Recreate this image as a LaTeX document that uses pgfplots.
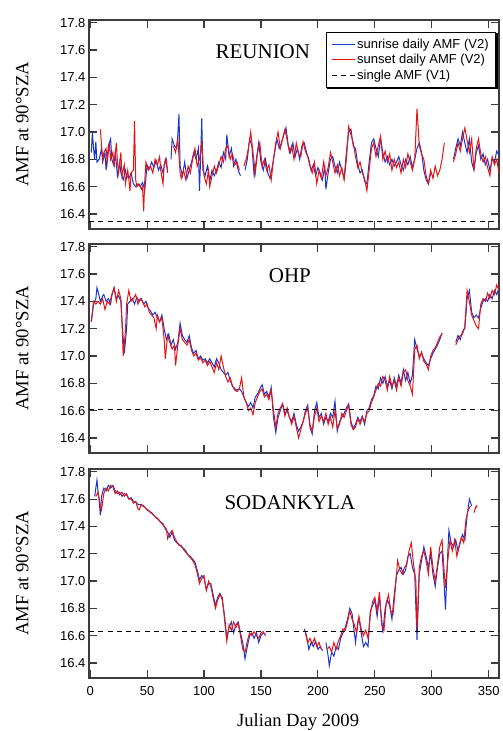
\documentclass[border=0pt]{standalone}
\usepackage{fontspec}
\setmainfont{Liberation Serif}
\setsansfont{Liberation Sans}
\usepackage{pgfplots}
\usepackage{pgfplotstable}
\pgfplotsset{compat=1.18}

\definecolor{riseblue}{RGB}{25,55,205}
\definecolor{setred}{RGB}{232,20,20}
\definecolor{axisgray}{RGB}{60,60,60}

% ---- REUNION ----
\pgfplotstableread[row sep=\\]{
day amf\\
1 16.85\\ 2 17.00\\ 3 16.88\\ 4 16.80\\ 5 16.93\\ 6 16.78\\ 8 16.80\\ 10 16.88\\ 11 16.78\\ 13 16.85\\
14 16.72\\ 16 16.90\\ 18 16.95\\ 19 16.80\\ 21 16.75\\ 22 16.85\\ 24 16.68\\ 26 16.78\\ 27 16.70\\ 29 16.65\\
31 16.72\\ 32 16.68\\ 34 16.66\\ 36 16.70\\ 38 16.62\\ 40 16.60\\ 42 16.62\\ 44 16.60\\ 46 16.63\\ 48 16.58\\
50 16.76\\ 52 16.73\\ 54 16.78\\ 56 16.74\\ 58 16.79\\ 60 16.72\\ 62 16.76\\ 64 16.70\\ 66 16.80\\ 68 16.72\\
70 nan\\ 71 16.80\\ 72 16.95\\ 74 16.90\\ 76 16.88\\ 77 16.98\\ 78 17.13\\ 79 16.75\\ 81 16.68\\ 83 16.78\\
85 16.66\\ 87 16.72\\ 89 16.78\\ 91 16.85\\ 93 16.80\\ 95 16.88\\ 96 16.57\\ 97 16.80\\ 98 17.10\\ 99 16.72\\
101 16.68\\ 103 16.75\\ 105 16.64\\ 107 16.72\\ 109 16.68\\ 111 16.72\\ 113 16.78\\ 115 16.74\\ 117 16.85\\ 119 16.80\\
120 16.98\\ 122 16.82\\ 124 16.88\\ 126 16.75\\ 128 16.80\\ 130 16.72\\ 132 16.68\\ 134 nan\\ 136 16.72\\ 138 16.80\\
140 16.95\\ 142 16.90\\ 144 16.68\\ 146 16.80\\ 148 16.92\\ 150 16.78\\ 152 16.72\\ 154 16.80\\ 156 16.70\\ 158 16.66\\
160 16.75\\ 162 16.85\\ 164 16.95\\ 166 16.88\\ 168 16.92\\ 170 16.98\\ 172 17.03\\ 174 16.90\\ 176 16.85\\ 178 16.92\\
180 16.82\\ 182 16.88\\ 184 16.80\\ 186 16.90\\ 188 16.92\\ 190 16.85\\ 192 16.80\\ 194 16.72\\ 196 16.76\\ 198 16.68\\
200 16.74\\ 202 16.70\\ 204 16.65\\ 206 16.75\\ 207 16.58\\ 209 16.70\\ 211 16.80\\ 213 16.82\\ 215 16.75\\ 217 16.70\\
219 16.78\\ 221 16.72\\ 223 16.66\\ 225 16.85\\ 227 17.00\\ 229 17.02\\ 231 16.90\\ 233 16.88\\ 235 16.76\\ 237 16.70\\
239 16.72\\ 241 16.64\\ 243 16.62\\ 245 16.78\\ 247 16.92\\ 249 16.95\\ 251 16.88\\ 253 16.82\\ 255 16.95\\ 257 16.85\\
259 16.78\\ 261 16.82\\ 263 16.76\\ 265 16.80\\ 267 16.75\\ 269 16.78\\ 271 16.82\\ 273 16.76\\ 275 16.72\\ 277 16.80\\
279 16.76\\ 281 16.82\\ 283 16.74\\ 285 16.80\\ 287 16.88\\ 289 16.92\\ 291 16.85\\ 293 16.72\\ 295 16.65\\ 297 16.62\\
299 16.70\\ 300 nan\\ 319 16.80\\ 321 16.88\\ 323 16.95\\ 325 16.90\\ 327 17.00\\ 329 16.92\\ 331 16.85\\ 333 16.95\\
335 16.78\\ 337 16.72\\ 339 16.85\\ 341 16.90\\ 343 16.80\\ 345 16.84\\ 347 16.76\\ 349 16.80\\ 351 16.72\\ 353 16.80\\
355 16.78\\ 357 16.86\\ 359 16.83\\
}\reuRise

\pgfplotstableread[row sep=\\]{
day amf\\
9 17.02\\ 10 16.90\\ 11 16.80\\ 12 16.85\\ 14 16.88\\ 15 16.78\\ 17 16.92\\ 18 16.80\\ 20 16.85\\ 21 16.75\\
23 16.92\\ 24 16.78\\ 25 16.70\\ 27 16.85\\ 28 16.68\\ 30 16.76\\ 31 16.62\\ 33 16.72\\ 34 16.65\\ 35 16.57\\
36 16.70\\ 38 16.72\\ 39 17.08\\ 40 16.65\\ 41 16.60\\ 43 16.62\\ 45 16.58\\ 46 16.60\\ 47 16.42\\ 48 16.65\\
49 16.78\\ 51 16.72\\ 53 16.75\\ 55 16.70\\ 57 16.80\\ 59 16.76\\ 61 16.82\\ 62 16.72\\ 64 16.62\\ 65 16.76\\
67 16.80\\ 68 16.70\\ 69 nan\\ 73 16.90\\ 75 16.85\\ 77 16.95\\ 79 16.70\\ 80 16.66\\ 82 16.72\\ 84 16.65\\
86 16.75\\ 88 16.70\\ 90 16.80\\ 92 16.88\\ 94 16.75\\ 96 16.80\\ 98 16.92\\ 100 16.68\\ 102 16.62\\ 104 16.72\\
105 16.60\\ 107 16.68\\ 109 16.75\\ 111 16.70\\ 113 16.76\\ 115 16.82\\ 117 16.78\\ 119 16.88\\ 121 16.90\\ 123 16.80\\
125 16.84\\ 127 16.76\\ 129 16.78\\ 131 16.72\\ 133 nan\\ 135 16.75\\ 137 16.80\\ 139 16.88\\ 141 17.00\\ 143 16.85\\
145 16.70\\ 147 16.85\\ 149 16.92\\ 151 16.75\\ 153 16.80\\ 155 16.72\\ 157 16.76\\ 159 16.65\\ 161 16.80\\ 163 16.92\\
165 17.00\\ 167 16.88\\ 169 16.95\\ 171 17.02\\ 173 16.94\\ 175 16.85\\ 177 16.90\\ 179 16.80\\ 181 16.92\\ 183 16.84\\
185 16.82\\ 187 16.93\\ 189 16.86\\ 191 16.82\\ 193 16.75\\ 195 16.70\\ 197 16.78\\ 199 16.62\\ 201 16.72\\ 203 16.66\\
205 16.78\\ 207 16.68\\ 209 16.74\\ 211 16.85\\ 213 16.78\\ 215 16.70\\ 217 16.76\\ 219 16.68\\ 221 16.74\\ 223 16.65\\
225 16.80\\ 227 17.04\\ 229 16.98\\ 231 16.92\\ 233 16.82\\ 235 16.74\\ 237 16.78\\ 239 16.70\\ 241 16.66\\ 243 16.57\\
245 16.72\\ 247 16.88\\ 249 16.92\\ 251 16.82\\ 253 16.90\\ 255 16.97\\ 257 16.80\\ 259 16.86\\ 261 16.78\\ 263 16.84\\
265 16.72\\ 267 16.80\\ 269 16.74\\ 271 16.78\\ 273 16.70\\ 275 16.80\\ 277 16.74\\ 279 16.84\\ 281 16.78\\ 283 16.72\\
285 16.80\\ 287 17.17\\ 289 16.90\\ 291 16.84\\ 293 16.80\\ 295 16.68\\ 297 16.62\\ 299 16.72\\ 301 16.66\\ 303 16.75\\
305 16.68\\ 307 16.72\\ 309 16.80\\ 311 16.92\\ 313 nan\\ 319 16.78\\ 321 16.84\\ 323 16.92\\ 325 16.86\\ 327 16.95\\
329 17.03\\ 331 16.94\\ 333 16.85\\ 335 16.95\\ 337 16.72\\ 339 16.88\\ 341 16.95\\ 343 16.84\\ 345 16.78\\ 347 16.82\\
349 16.74\\ 351 16.68\\ 353 16.82\\ 355 16.76\\ 357 16.80\\ 359 16.70\\
}\reuSet

% ---- OHP ----
\pgfplotstableread[row sep=\\]{
day amf\\
1 17.25\\ 3 17.38\\ 5 17.42\\ 6 17.50\\ 7 17.47\\ 9 17.40\\ 11 17.44\\ 12 17.45\\ 14 17.40\\ 16 17.42\\
18 17.38\\ 19 17.44\\ 21 17.50\\ 23 17.42\\ 25 17.44\\ 27 17.40\\ 28 17.25\\ 30 17.02\\ 32 17.20\\ 33 17.38\\
35 17.40\\ 37 17.42\\ 39 17.38\\ 41 17.43\\ 43 17.40\\ 45 17.42\\ 47 17.38\\ 49 17.40\\ 51 17.35\\ 53 17.33\\
55 17.30\\ 57 17.32\\ 59 17.28\\ 61 17.25\\ 63 17.30\\ 65 17.20\\ 67 17.12\\ 69 17.16\\ 71 17.08\\ 73 17.12\\
75 17.05\\ 77 17.10\\ 79 17.24\\ 81 17.15\\ 83 17.12\\ 85 17.10\\ 87 17.15\\ 89 17.06\\ 91 17.02\\ 93 17.04\\
95 16.98\\ 97 17.00\\ 99 16.97\\ 101 16.98\\ 103 16.95\\ 105 16.98\\ 107 16.95\\ 109 16.92\\ 111 16.98\\ 113 16.95\\
115 16.90\\ 117 16.88\\ 119 16.86\\ 121 16.88\\ 123 16.82\\ 125 16.78\\ 127 16.76\\ 129 16.75\\ 131 16.76\\ 133 16.74\\
135 16.70\\ 137 16.66\\ 139 16.63\\ 141 16.66\\ 143 16.62\\ 145 16.70\\ 147 16.72\\ 149 16.76\\ 151 16.79\\ 153 16.72\\
155 16.74\\ 157 16.70\\ 159 16.77\\ 161 16.55\\ 163 16.44\\ 165 16.55\\ 167 16.60\\ 169 16.65\\ 171 16.58\\ 173 16.60\\
175 16.55\\ 177 16.52\\ 179 16.58\\ 181 16.50\\ 183 16.45\\ 185 16.48\\ 187 16.52\\ 189 16.60\\ 191 16.64\\ 193 16.48\\
195 16.43\\ 197 16.60\\ 199 16.66\\ 201 16.55\\ 203 16.58\\ 205 16.50\\ 207 16.55\\ 209 16.52\\ 211 16.58\\ 213 16.55\\
215 16.67\\ 217 16.45\\ 219 16.52\\ 221 16.55\\ 223 16.58\\ 225 16.62\\ 227 16.65\\ 229 16.52\\ 231 16.47\\ 233 16.50\\
235 16.55\\ 237 16.52\\ 239 16.56\\ 241 16.50\\ 243 16.60\\ 245 16.62\\ 247 16.68\\ 249 16.71\\ 251 16.78\\ 253 16.76\\
255 16.84\\ 257 16.80\\ 259 16.85\\ 261 16.78\\ 263 16.82\\ 265 16.76\\ 267 16.84\\ 269 16.78\\ 271 16.86\\ 273 16.80\\
275 16.90\\ 277 16.82\\ 279 16.88\\ 281 16.80\\ 283 16.86\\ 285 17.12\\ 287 17.05\\ 289 17.00\\ 291 17.02\\ 293 16.98\\
295 16.95\\ 297 16.93\\ 299 16.98\\ 301 17.02\\ 303 17.05\\ 305 17.08\\ 307 17.12\\ 309 17.17\\ 310 nan\\ 321 17.10\\
323 17.15\\ 325 17.12\\ 327 17.18\\ 329 17.20\\ 331 17.42\\ 333 17.48\\ 335 17.32\\ 337 17.28\\ 339 17.30\\ 341 17.28\\
343 17.35\\ 345 17.40\\ 347 17.42\\ 349 17.40\\ 351 17.45\\ 353 17.42\\ 355 17.48\\ 357 17.45\\ 359 17.50\\
}\ohpRise

\pgfplotstableread[row sep=\\]{
day amf\\
1 17.25\\ 3 17.40\\ 5 17.38\\ 7 17.40\\ 9 17.38\\ 11 17.42\\ 13 17.34\\ 15 17.40\\ 17 17.38\\ 19 17.45\\
21 17.50\\ 23 17.40\\ 25 17.48\\ 27 17.42\\ 28 17.25\\ 29 17.00\\ 31 17.18\\ 32 17.38\\ 34 17.48\\ 36 17.40\\
38 17.42\\ 40 17.45\\ 42 17.38\\ 44 17.42\\ 46 17.40\\ 48 17.36\\ 50 17.38\\ 52 17.32\\ 54 17.30\\ 56 17.28\\
58 17.20\\ 59 17.30\\ 61 17.25\\ 63 17.28\\ 65 17.12\\ 66 16.98\\ 68 17.15\\ 70 17.10\\ 72 17.05\\ 74 17.08\\
75 16.93\\ 77 17.08\\ 79 17.20\\ 81 17.12\\ 83 17.10\\ 85 17.08\\ 87 17.12\\ 89 17.04\\ 91 17.00\\ 93 17.02\\
95 16.97\\ 97 16.99\\ 99 16.95\\ 101 16.97\\ 103 16.93\\ 105 16.96\\ 107 16.92\\ 109 16.88\\ 111 16.95\\ 113 16.90\\
115 17.00\\ 117 16.92\\ 119 16.85\\ 121 16.81\\ 123 16.84\\ 125 16.78\\ 127 16.75\\ 129 16.74\\ 131 16.76\\ 133 16.84\\
135 16.70\\ 137 16.66\\ 139 16.60\\ 141 16.62\\ 143 16.57\\ 145 16.66\\ 147 16.70\\ 149 16.74\\ 151 16.76\\ 153 16.70\\
155 16.72\\ 157 16.68\\ 159 16.75\\ 161 16.60\\ 163 16.48\\ 165 16.58\\ 167 16.62\\ 169 16.65\\ 171 16.56\\ 173 16.62\\
175 16.55\\ 177 16.50\\ 179 16.56\\ 181 16.48\\ 183 16.40\\ 185 16.46\\ 187 16.52\\ 189 16.58\\ 191 16.62\\ 193 16.50\\
195 16.45\\ 197 16.56\\ 199 16.62\\ 201 16.52\\ 203 16.56\\ 205 16.52\\ 207 16.58\\ 209 16.50\\ 211 16.55\\ 213 16.48\\
215 16.60\\ 217 16.47\\ 219 16.50\\ 221 16.58\\ 223 16.55\\ 225 16.60\\ 227 16.64\\ 229 16.50\\ 231 16.46\\ 233 16.48\\
235 16.54\\ 237 16.50\\ 239 16.55\\ 241 16.52\\ 243 16.58\\ 245 16.60\\ 247 16.66\\ 249 16.70\\ 251 16.75\\ 253 16.80\\
255 16.78\\ 257 16.85\\ 259 16.82\\ 261 16.75\\ 263 16.85\\ 265 16.78\\ 267 16.82\\ 269 16.75\\ 271 16.84\\ 273 16.78\\
275 16.88\\ 277 16.90\\ 279 16.82\\ 281 16.78\\ 283 16.72\\ 285 17.05\\ 287 17.08\\ 289 16.98\\ 291 17.03\\ 293 16.96\\
295 16.94\\ 297 16.90\\ 299 17.00\\ 301 17.04\\ 303 17.06\\ 305 17.10\\ 307 17.14\\ 309 17.16\\ 310 nan\\ 321 17.08\\
323 17.12\\ 325 17.15\\ 327 17.16\\ 329 17.22\\ 331 17.48\\ 333 17.40\\ 335 17.30\\ 337 17.26\\ 339 17.22\\ 341 17.20\\
343 17.38\\ 345 17.42\\ 347 17.40\\ 349 17.46\\ 351 17.42\\ 353 17.48\\ 355 17.45\\ 357 17.52\\ 359 17.48\\
}\ohpSet

% ---- SODANKYLA ----
\pgfplotstableread[row sep=\\]{
day amf\\
4 17.62\\ 5 17.68\\ 6 17.74\\ 7 17.65\\ 8 17.58\\ 9 17.48\\ 10 17.62\\ 12 17.68\\ 14 17.66\\ 16 17.70\\
18 17.68\\ 20 17.70\\ 22 17.66\\ 24 17.64\\ 26 17.65\\ 28 17.62\\ 30 17.64\\ 32 17.63\\ 34 17.60\\ 36 17.61\\
38 17.58\\ 40 17.58\\ 42 17.56\\ 44 17.56\\ 46 17.55\\ 48 17.54\\ 50 17.52\\ 52 17.51\\ 54 17.50\\ 56 17.48\\
58 17.46\\ 60 17.45\\ 62 17.43\\ 64 17.42\\ 66 17.38\\ 68 17.36\\ 70 17.32\\ 72 17.36\\ 74 17.30\\ 76 17.28\\
78 17.27\\ 80 17.25\\ 82 17.24\\ 84 17.22\\ 86 17.19\\ 88 17.18\\ 90 17.16\\ 92 17.14\\ 94 17.08\\ 96 17.01\\
98 17.04\\ 100 17.02\\ 102 16.94\\ 104 16.98\\ 106 16.98\\ 108 16.90\\ 110 16.82\\ 112 16.88\\ 114 16.91\\ 116 16.86\\
118 16.75\\ 120 16.58\\ 122 16.66\\ 124 16.70\\ 126 16.62\\ 128 16.68\\ 130 16.70\\ 132 16.62\\ 134 16.55\\ 136 16.43\\
138 16.52\\ 140 16.60\\ 142 16.62\\ 144 16.58\\ 146 16.62\\ 148 16.55\\ 150 16.60\\ 152 16.62\\ 154 16.61\\ 155 nan\\
188 16.65\\ 190 16.60\\ 192 16.50\\ 194 16.55\\ 196 16.52\\ 198 16.56\\ 200 16.50\\ 202 16.52\\ 204 16.49\\ 205 nan\\
207 16.55\\ 209 16.45\\ 210 16.38\\ 212 16.48\\ 214 16.45\\ 216 16.52\\ 218 16.50\\ 220 16.58\\ 222 16.62\\ 224 16.66\\
226 16.72\\ 228 16.80\\ 230 16.76\\ 232 16.62\\ 233 16.55\\ 235 16.70\\ 236 16.73\\ 238 16.62\\ 240 16.52\\ 242 16.55\\
244 16.52\\ 246 16.78\\ 248 16.82\\ 250 16.86\\ 252 16.74\\ 254 16.88\\ 256 16.72\\ 257 16.62\\ 259 16.80\\ 261 16.86\\
263 16.82\\ 265 16.72\\ 267 16.90\\ 269 17.04\\ 271 17.08\\ 273 17.10\\ 275 17.05\\ 277 17.08\\ 279 17.18\\ 281 17.20\\
283 17.10\\ 285 17.05\\ 287 16.57\\ 289 17.05\\ 291 17.15\\ 293 17.25\\ 295 17.18\\ 297 17.10\\ 299 17.20\\ 301 17.05\\
303 16.96\\ 305 17.10\\ 307 17.20\\ 309 17.22\\ 311 16.95\\ 312 16.79\\ 314 17.20\\ 315 17.37\\ 317 17.28\\ 319 17.25\\
321 17.30\\ 323 17.22\\ 325 17.28\\ 327 17.34\\ 329 17.30\\ 331 17.48\\ 333 17.60\\ 335 17.55\\
}\sodRise

\pgfplotstableread[row sep=\\]{
day amf\\
5 17.62\\ 7 17.65\\ 9 17.55\\ 10 17.52\\ 12 17.64\\ 14 17.68\\ 16 17.66\\ 18 17.70\\ 20 17.69\\ 22 17.64\\
24 17.66\\ 26 17.63\\ 28 17.65\\ 30 17.62\\ 32 17.64\\ 34 17.60\\ 36 17.60\\ 38 17.57\\ 40 17.58\\ 42 17.53\\
43 17.52\\ 45 17.56\\ 47 17.55\\ 49 17.53\\ 51 17.52\\ 53 17.50\\ 55 17.49\\ 57 17.47\\ 59 17.46\\ 61 17.44\\
63 17.42\\ 65 17.40\\ 67 17.38\\ 68 17.31\\ 70 17.35\\ 72 17.37\\ 74 17.32\\ 76 17.29\\ 78 17.26\\ 80 17.26\\
82 17.23\\ 84 17.21\\ 86 17.19\\ 88 17.17\\ 90 17.15\\ 92 17.12\\ 94 17.06\\ 96 16.98\\ 98 17.02\\ 100 17.04\\
102 16.93\\ 104 17.00\\ 106 16.96\\ 108 16.88\\ 110 16.80\\ 112 16.86\\ 114 16.90\\ 116 16.88\\ 118 16.72\\ 120 16.56\\
122 16.68\\ 124 16.64\\ 126 16.70\\ 128 16.66\\ 130 16.69\\ 132 16.60\\ 134 16.50\\ 136 16.48\\ 138 16.56\\ 140 16.62\\
142 16.60\\ 144 16.63\\ 146 16.60\\ 148 16.58\\ 150 16.62\\ 152 16.63\\ 154 16.60\\ 155 nan\\ 189 16.62\\ 191 16.55\\
193 16.58\\ 195 16.54\\ 197 16.58\\ 199 16.52\\ 201 16.55\\ 203 16.50\\ 204 nan\\ 208 16.50\\ 210 16.52\\ 212 16.48\\
214 16.55\\ 216 16.50\\ 218 16.56\\ 220 16.60\\ 222 16.65\\ 224 16.64\\ 226 16.70\\ 228 16.78\\ 230 16.72\\ 232 16.68\\
234 16.62\\ 236 16.74\\ 238 16.65\\ 240 16.60\\ 242 16.64\\ 244 16.58\\ 246 16.75\\ 248 16.85\\ 250 16.88\\ 252 16.78\\
254 16.92\\ 256 16.68\\ 258 16.64\\ 260 16.84\\ 262 16.90\\ 264 16.78\\ 266 16.76\\ 268 16.95\\ 270 17.15\\ 272 17.08\\
274 17.05\\ 276 17.10\\ 278 17.12\\ 280 17.22\\ 282 17.28\\ 284 17.12\\ 286 17.00\\ 287 16.65\\ 289 17.10\\ 291 17.18\\
293 17.22\\ 295 17.15\\ 297 17.05\\ 299 17.25\\ 301 17.10\\ 303 17.00\\ 305 17.12\\ 307 17.25\\ 309 17.30\\ 311 17.05\\
312 16.95\\ 314 17.15\\ 316 17.30\\ 318 17.22\\ 320 17.30\\ 322 17.18\\ 324 17.26\\ 326 17.32\\ 328 17.28\\ 330 17.45\\
332 17.52\\ 334 17.55\\ 335 nan\\ 337 17.50\\ 339 17.55\\ 340 17.54\\
}\sodSet

\tikzset{panelname/.style={font=\fontsize{21}{21}\selectfont}}

\pgfplotsset{
  amfpanel/.style={
    scale only axis, width=410pt, height=209pt,
    xmin=-1, xmax=359, ymin=16.29, ymax=17.82,
    xtick={0,50,100,150,200,250,300,350},
    ytick={16.4,16.6,16.8,17.0,17.2,17.4,17.6,17.8},
    yticklabel style={/pgf/number format/fixed, /pgf/number format/fixed zerofill, /pgf/number format/precision=1},
    xticklabel style={yshift=-5pt},
    /pgf/number format/assume math mode=true,
    tick align=inside, major tick length=8pt,
    every tick/.style={axisgray, line width=1.1pt},
    axis line style={axisgray, line width=1.4pt},
    tick label style={font=\fontsize{13}{13}\selectfont\sffamily},
    unbounded coords=jump,
    ylabel={AMF at 90°SZA},
    ylabel style={font=\fontsize{18.7}{20}\selectfont, at={(axis description cs:-0.163,0.5)}, anchor=center},
  },
  rise/.style={riseblue, line width=1pt, no markers},
  set/.style={setred, line width=1pt, no markers},
  v1/.style={black, line width=1pt, dash pattern=on 5pt off 4.3pt, no markers},
}

\begin{document}
\begin{tikzpicture}
\begin{axis}[amfpanel, at={(89pt,711pt)}, anchor=north west, xticklabels={},
  legend style={name=leg, at={(0.993,0.943)}, anchor=north east, draw=black, line width=1pt, fill=white,
    font=\fontsize{13}{16}\selectfont\sffamily, inner xsep=5pt, inner ysep=4.5pt,
    cells={anchor=west}, row sep=0.5pt},
  legend image code/.code={\draw[#1] (0pt,0pt) -- (23pt,0pt);},
]
\addplot[rise] table[x=day, y=amf] {\reuRise};
\addlegendentry{sunrise daily AMF (V2)}
\addplot[set] table[x=day, y=amf] {\reuSet};
\addlegendentry{sunset daily AMF (V2)}
\addplot[v1] coordinates {(-1,16.343) (359,16.343)};
\addlegendentry{single AMF (V1)}
\node[panelname] at (rel axis cs:0.424,0.847) {REUNION};
\end{axis}
% heavier lower and right edges of the legend box
\draw[black, line width=1.3pt] ([xshift=1.5pt,yshift=-1pt]leg.south west) -- ([xshift=1pt,yshift=-1pt]leg.south east) -- ([xshift=1pt,yshift=-1.5pt]leg.north east);

\begin{axis}[amfpanel, at={(89pt,487pt)}, anchor=north west, xticklabels={}]
\addplot[rise] table[x=day, y=amf] {\ohpRise};
\addplot[set] table[x=day, y=amf] {\ohpSet};
\addplot[v1] coordinates {(-1,16.607) (359,16.607)};
\node[panelname] at (rel axis cs:0.49,0.85) {OHP};
\end{axis}

\begin{axis}[amfpanel, at={(89pt,262pt)}, anchor=north west,
  xlabel={Julian Day 2009},
  xlabel style={font=\fontsize{18.6}{20}\selectfont, at={(axis description cs:0.51,-0.21)}, anchor=center},
]
\addplot[rise] table[x=day, y=amf] {\sodRise};
\addplot[set] table[x=day, y=amf] {\sodSet};
\addplot[v1] coordinates {(-1,16.628) (359,16.628)};
\node[panelname] at (rel axis cs:0.49,0.84) {SODANKYLA};
\end{axis}

\pgfresetboundingbox
\path[use as bounding box] (0pt,0pt) rectangle (503pt,731pt);
\end{tikzpicture}
\end{document}
